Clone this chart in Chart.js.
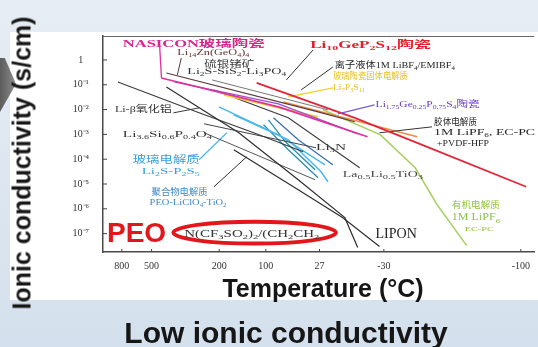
<!DOCTYPE html>
<html>
<head>
<meta charset="utf-8">
<script src="https://cdn.jsdelivr.net/npm/chart.js@4.4.1/dist/chart.umd.min.js"></script>
<style>
html,body{margin:0;padding:0}
body{width:538px;height:347px;overflow:hidden;position:relative;background:linear-gradient(#e7edf4,#d4e0ed);font-family:'Liberation Sans',Arial,sans-serif}
#panel{position:absolute;left:10px;top:32px;width:528px;height:268px;background:#fff}
#wedge{position:absolute;left:0;top:58px;width:16px;height:54px;background:linear-gradient(90deg,#5c5c5c,#8c8c8c);clip-path:polygon(0 0,30% 0,100% 48%,0 100%)}
#chart{position:absolute;left:0;top:0}
.t{position:absolute;white-space:nowrap;color:#161616}
#ytitle{left:22px;top:163px;font-size:25px;font-weight:bold;transform:translate(-50%,-50%) rotate(-90deg)}
#xtitle{left:323px;top:288px;font-size:25px;font-weight:bold;transform:translate(-50%,-50%)}
#caption{left:286px;top:333px;font-size:30px;font-weight:bold;transform:translate(-50%,-50%)}
</style>
</head>
<body>
<div id="panel"></div>
<div id="wedge"></div>
<canvas id="chart" width="538" height="300"></canvas>
<div class="t" id="ytitle">Ionic conductivity (s/cm)</div>
<div class="t" id="xtitle">Temperature (°C)</div>
<div class="t" id="caption">Low ionic conductivity</div>
<script>
// Axis ticks: temperatures in °C (plotted at 1000/T) and conductivity decades
const tempTicksC = [800, 500, 200, 100, 27, -30, -100];
const decadeTicks = [0, -1, -2, -3, -4, -5, -6, -7];

// Each series: [1000/T (K^-1), log10 σ (S/cm)]
const nasicon      = [[1.413,-0.724],[2.833,-1.891],[3.915,-3.097]];
const nasiconLead  = [[1.389,0.684],[1.413,-0.724]];
const thioLisicon  = [[1.570,-0.885],[2.833,-1.770],[3.795,-2.977]];
const thioLead     = [[3.555,-2.172],[4.000,-1.810]];
const liZnGeO      = [[1.473,-0.523],[3.314,-2.092],[3.759,-2.494]];
const liZnLead     = [[1.654,0.080],[1.606,-0.603]];
const li2sSis2     = [[2.027,-0.805],[3.434,-2.011]];
const gelPolymer   = [[2.568,-0.925],[3.759,-2.333],[4.517,-3.339],[5.840,-5.109]];
const gelLead      = [[4.060,-2.936],[4.698,-2.695]];
const ionicLiquid  = [[2.893,-1.689],[4.517,-3.097]];
const ionicLead    = [[3.494,-0.282],[3.109,-1.207]];
const lgpsLead     = [[3.254,0.402],[2.929,-0.805]];
const li7p3s11     = [[2.171,-1.408],[3.314,-2.293]];
const li7p3s11Lead = [[2.953,-1.488],[3.494,-1.126]];
const organicLiq   = [[3.374,-2.011],[4.072,-3.017],[4.493,-4.344],[4.758,-5.833],[5.118,-7.482]];
const llto         = [[2.051,-1.207],[2.953,-2.333],[3.819,-4.344]];
const betaAlumina  = [[0.884,-0.885],[1.870,-2.132],[2.532,-2.936],[3.133,-3.701]];
const betaLead     = [[1.558,-2.132],[1.870,-1.931]];
const lisipo       = [[1.473,-1.086],[2.352,-2.936],[3.073,-4.827],[3.639,-6.356],[3.795,-7.562]];
const lipon        = [[2.291,-3.620],[3.073,-5.229],[3.615,-6.356],[4.060,-7.522]];
const li3n         = [[1.931,-2.574],[3.290,-3.540]];
const polyGray     = [[1.931,-2.936],[3.278,-4.827]];
const glassA       = [[2.111,-1.891],[2.833,-3.017],[3.398,-4.224]];
const glassB       = [[2.291,-2.212],[2.953,-3.218],[3.350,-4.505],[3.434,-4.908]];
const glassLead    = [[1.870,-4.023],[2.207,-2.936]];
const peoA         = [[2.712,-2.414],[2.917,-3.298],[3.278,-4.425]];
const peoB         = [[2.652,-2.615],[2.953,-3.620],[3.314,-4.747]];
const peoC         = [[2.773,-2.333],[3.073,-3.218],[3.494,-4.224]];
const peoLead      = [[2.051,-5.109],[2.448,-3.902]];

// Line styling for each series
const seriesStyle = [
  [nasicon,'#e0309c',1.6],[nasiconLead,'#e0309c',1.3],
  [thioLisicon,'#9b4fd0',1.4],[thioLead,'#7a5ad0',1.2],
  [liZnGeO,'#5a3a3a',1.1],[liZnLead,'#5a3a3a',1],
  [li2sSis2,'#777777',1],
  [gelPolymer,'#e3263a',1.8],[gelLead,'#333333',1],
  [ionicLiquid,'#f08a3c',1.4],[ionicLead,'#333333',1],[lgpsLead,'#333333',1],
  [li7p3s11,'#f0d030',1.8],[li7p3s11Lead,'#f0d030',1.5],
  [organicLiq,'#a8d060',1.6],
  [llto,'#3a3a3a',1.1],[betaAlumina,'#3a3a3a',1.1],[betaLead,'#3a3a3a',1],
  [lisipo,'#2e2e2e',1.2],[lipon,'#2e2e2e',1.2],[li3n,'#444444',1],[polyGray,'#555555',1],
  [glassA,'#4ab8e8',1.5],[glassB,'#4ab8e8',1.5],[glassLead,'#4ab8e8',1.2],
  [peoA,'#2a8fb0',1.3],[peoB,'#2a8fb0',1.3],[peoC,'#3a70b8',1.3],[peoLead,'#333333',1]
];

const datasets = seriesStyle.map(([pts,color,w]) => ({
  data: pts.map(([x,y]) => ({x, y})),
  borderColor: color, borderWidth: w, pointRadius: 0, tension: 0, fill: false
}));

const SERIF = "'Liberation Serif','Noto Sans CJK SC',serif";
const SANS = "'Liberation Sans','Noto Sans CJK SC',sans-serif";

// Text annotations, anchored at (1000/T, log10 σ); _{..} marks a subscript
const notes = [
  {text:'NASICON玻璃陶瓷', x:0.944, y:0.644, size:10, color:'#d9268f', width:142, weight:'bold'},
  {text:'Li_{10}GeP_{2}S_{12}陶瓷', x:3.218, y:0.603, size:10, color:'#e0202e', width:121, weight:'bold'},
  {text:'Li_{14}Zn(GeO_{4})_{4}', x:1.606, y:0.282, size:9, color:'#6b3434', width:72},
  {text:'硫银锗矿', x:1.931, y:-0.201, size:9, color:'#3a3a3a', width:50},
  {text:'Li_{2}S-SiS_{2}-Li_{3}PO_{4}', x:1.726, y:-0.483, size:9, color:'#333', width:99},
  {text:'离子液体1M LiBF_{4}/EMIBF_{4}', x:3.518, y:-0.241, size:9, color:'#222', width:120},
  {text:'玻璃陶瓷固体电解质', x:3.494, y:-0.684, size:9, color:'#e8c21c', width:75},
  {text:'Li_{7}P_{3}S_{11}', x:3.494, y:-1.126, size:9, color:'#e8c21c', width:32},
  {text:'Li_{1.75}Ge_{0.25}P_{0.75}S_{4}陶瓷', x:4.012, y:-1.810, size:9, color:'#6a3cc0', width:104},
  {text:'胶体电解质', x:4.722, y:-2.534, size:9, color:'#222', width:43},
  {text:'1M LiPF_{6}, EC-PC', x:4.722, y:-2.936, size:9, color:'#222', width:101},
  {text:'+PVDF-HFP', x:4.758, y:-3.379, size:9, color:'#222', width:52},
  {text:'Li-β氧化铝', x:0.848, y:-2.011, size:9, color:'#333', width:57},
  {text:'Li_{3.6}Si_{0.6}P_{0.4}O_{4}', x:0.944, y:-3.017, size:9, color:'#333', width:89},
  {text:'Li_{3}N', x:3.290, y:-3.540, size:9, color:'#333', width:30},
  {text:'La_{0.5}Li_{0.5}TiO_{3}', x:3.615, y:-4.626, size:8, color:'#444', width:80},
  {text:'玻璃电解质', x:1.064, y:-4.063, size:10, color:'#3a9fdc', width:67},
  {text:'Li_{2}S-P_{2}S_{5}', x:1.173, y:-4.505, size:9, color:'#3a9fdc', width:58},
  {text:'聚合物电解质', x:1.293, y:-5.350, size:9, color:'#3d86c6', width:56},
  {text:'PEO-LiClO_{4}-TiO_{2}', x:1.269, y:-5.752, size:9, color:'#3d86c6', width:77},
  {text:'有机电解质', x:4.938, y:-5.873, size:9, color:'#8cc43c', width:48},
  {text:'1M LiPF_{6}', x:4.938, y:-6.356, size:10, color:'#8cc43c', width:48},
  {text:'EC-PC', x:5.094, y:-6.838, size:7, color:'#8cc43c', width:29},
  {text:'LIPON', x:4.012, y:-7.039, size:14, color:'#222'},
  {text:'N(CF_{3}SO_{2})_{2}/(CH_{2}CH_{2}', x:1.690, y:-7.039, size:10, color:'#333', width:135},
  {text:'PEO', x:0.752, y:-7.039, size:28, color:'#e3161c', weight:'bold', family:SANS}
];
// Highlight ring around the PEO salt formula: centre in data units, radii in data units
const ring = {x:2.544, y:-6.959, rx:0.986, ry:0.442};

function splitRich(str){
  const out = []; const re = /_\{([^}]*)\}/g; let last = 0, m;
  while ((m = re.exec(str))) {
    if (m.index > last) out.push([str.slice(last, m.index), false]);
    out.push([m[1], true]); last = re.lastIndex;
  }
  if (last < str.length) out.push([str.slice(last), false]);
  return out;
}

function drawNote(ctx, xs, ys, n){
  const fam = n.family || SERIF, w = n.weight || 'normal';
  const f0 = `${w} ${n.size}px ${fam}`, f1 = `${w} ${Math.round(n.size*0.72)}px ${fam}`;
  const segs = splitRich(n.text);
  let nat = 0;
  segs.forEach(([t,sub]) => { ctx.font = sub ? f1 : f0; nat += ctx.measureText(t).width; });
  const sx = n.width ? n.width / nat : 1;
  ctx.save();
  ctx.translate(xs.getPixelForValue(n.x), ys.getPixelForValue(n.y));
  ctx.scale(sx, 1);
  ctx.fillStyle = n.color; ctx.textBaseline = 'middle'; ctx.textAlign = 'left';
  let cx = 0;
  segs.forEach(([t,sub]) => {
    ctx.font = sub ? f1 : f0;
    ctx.fillText(t, cx, sub ? n.size*0.3 : 0);
    cx += ctx.measureText(t).width;
  });
  ctx.restore();
}

const toSup = s => s.replace(/[-0-9]/g, c => ({'-':'⁻','0':'⁰','1':'¹','2':'²','3':'³','4':'⁴','5':'⁵','6':'⁶','7':'⁷','8':'⁸','9':'⁹'})[c]);

const frame = {
  id: 'frame',
  afterDatasetsDraw(chart){
    const {ctx, chartArea:a, scales:{x:xs, y:ys}} = chart;
    ctx.save();
    // top edge of the plot box and inward tick marks
    ctx.strokeStyle = '#6a6a6a'; ctx.lineWidth = 1;
    ctx.beginPath(); ctx.moveTo(a.left, a.top + 0.5); ctx.lineTo(a.right, a.top + 0.5); ctx.stroke();
    ctx.strokeStyle = '#444'; ctx.beginPath();
    xs.ticks.forEach(t => { const p = xs.getPixelForValue(t.value); ctx.moveTo(p, a.bottom); ctx.lineTo(p, a.bottom - 3); });
    ys.ticks.forEach(t => { const p = ys.getPixelForValue(t.value); ctx.moveTo(a.left, p); ctx.lineTo(a.left + 4, p); });
    ctx.stroke();
    // PEO highlight ring
    const cx = xs.getPixelForValue(ring.x), cy = ys.getPixelForValue(ring.y);
    const rx = Math.abs(xs.getPixelForValue(ring.x + ring.rx) - cx);
    const ry = Math.abs(ys.getPixelForValue(ring.y + ring.ry) - cy);
    ctx.strokeStyle = '#e3161c'; ctx.lineWidth = 4;
    ctx.beginPath(); ctx.ellipse(cx, cy, rx, ry, 0, 0, Math.PI*2); ctx.stroke();
    ctx.restore();
    notes.forEach(n => drawNote(ctx, xs, ys, n));
  }
};

new Chart(document.getElementById('chart'), {
  type: 'line',
  data: {datasets},
  options: {
    responsive: false, animation: false, events: [],
    layout: {padding: {top: 36, left: 0, right: 0, bottom: 0}},
    plugins: {legend: {display: false}, tooltip: {enabled: false}},
    scales: {
      x: {
        type: 'linear', min: 0.7034, max: 5.9365,
        afterBuildTicks: s => { s.ticks = tempTicksC.map(t => ({value: 1000/(t + 273.15)})); },
        afterFit: s => { s.height = 48; },
        grid: {display: false, drawTicks: false},
        border: {display: true, color: '#4a4a4a', width: 1.5},
        ticks: {autoSkip: false, maxRotation: 0, padding: 8, color: '#333',
          font: {family: SERIF, size: 10},
          callback: (v, i) => String(tempTicksC[i])}
      },
      y: {
        type: 'linear', min: -7.74, max: 0.965,
        afterBuildTicks: s => { s.ticks = decadeTicks.map(v => ({value: v})); },
        afterFit: s => { s.width = 103; },
        grid: {display: false, drawTicks: false},
        border: {display: true, color: '#4a4a4a', width: 1.5},
        ticks: {crossAlign: 'center', padding: 14, color: '#333',
          font: {family: SERIF, size: 10},
          callback: v => v === 0 ? '1' : '10' + toSup(String(v))}
      }
    }
  },
  plugins: [frame]
});
</script>
</body>
</html>
